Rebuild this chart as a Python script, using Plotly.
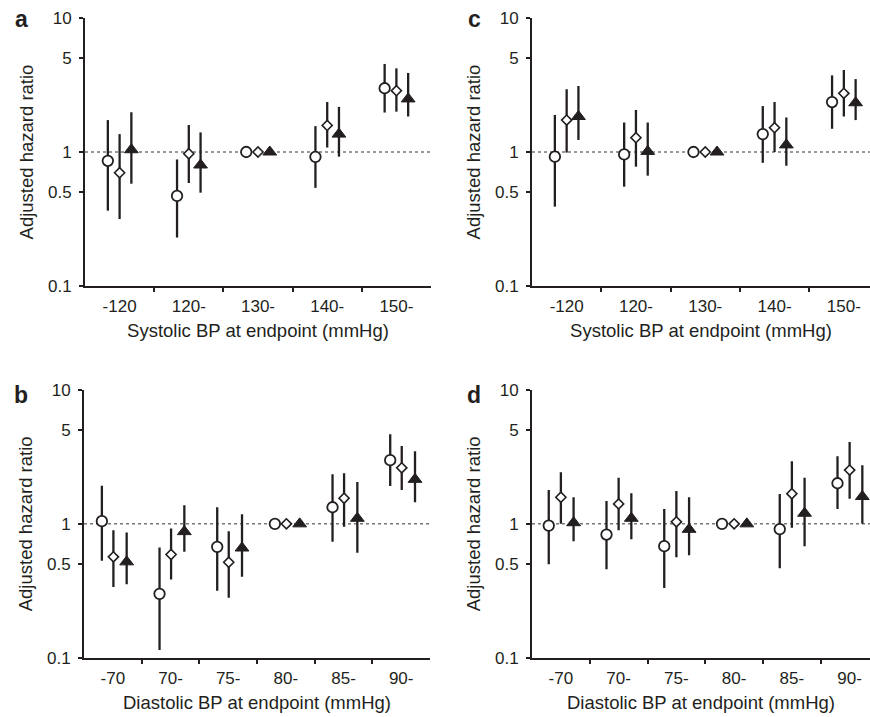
import plotly.graph_objects as go

# ---------------- data ----------------
sys_cats = ["-120", "120-", "130-", "140-", "150-"]
dia_cats = ["-70", "70-", "75-", "80-", "85-", "90-"]
y_tick_vals = [0.1, 0.5, 1, 5, 10]
y_tick_text = ["0.1", "0.5", "1", "5", "10"]

# panel a (systolic)
a_circle_hr = [0.86, 0.47, 1.0, 0.92, 2.99]
a_circle_lo = [0.365, 0.23, 1.0, 0.54, 1.97]
a_circle_hi = [1.73, 0.88, 1.0, 1.56, 4.54]
a_diamond_hr = [0.70, 0.97, 1.0, 1.58, 2.87]
a_diamond_lo = [0.316, 0.587, 1.0, 1.08, 2.0]
a_diamond_hi = [1.36, 1.59, 1.0, 2.36, 4.21]
a_triangle_hr = [1.04, 0.80, 1.0, 1.36, 2.49]
a_triangle_lo = [0.58, 0.497, 1.0, 0.923, 1.84]
a_triangle_hi = [1.98, 1.40, 1.0, 2.17, 3.89]

# panel c (systolic)
c_circle_hr = [0.923, 0.96, 1.0, 1.36, 2.36]
c_circle_lo = [0.391, 0.551, 1.0, 0.83, 1.49]
c_circle_hi = [1.89, 1.66, 1.0, 2.2, 3.73]
c_diamond_hr = [1.73, 1.28, 1.0, 1.52, 2.74]
c_diamond_lo = [0.99, 0.777, 1.0, 1.0, 1.84]
c_diamond_hi = [2.94, 2.06, 1.0, 2.36, 4.09]
c_triangle_hr = [1.84, 1.01, 1.0, 1.13, 2.33]
c_triangle_lo = [1.23, 0.666, 1.0, 0.79, 1.73]
c_triangle_hi = [3.11, 1.66, 1.0, 1.81, 3.5]

# panel b (diastolic)
b_circle_hr = [1.047, 0.30, 0.673, 1.0, 1.33, 2.99]
b_circle_lo = [0.529, 0.114, 0.316, 1.0, 0.734, 1.92]
b_circle_hi = [1.93, 0.665, 1.33, 1.0, 2.35, 4.68]
b_diamond_hr = [0.567, 0.59, 0.517, 1.0, 1.555, 2.62]
b_diamond_lo = [0.338, 0.384, 0.28, 1.0, 0.95, 1.79]
b_diamond_hi = [0.897, 0.923, 0.882, 1.0, 2.39, 3.81]
b_triangle_hr = [0.52, 0.875, 0.66, 1.0, 1.10, 2.15]
b_triangle_lo = [0.354, 0.618, 0.402, 1.0, 0.607, 1.45]
b_triangle_hi = [0.861, 1.38, 1.18, 1.0, 2.05, 3.49]

# panel d (diastolic)
d_circle_hr = [0.97, 0.832, 0.681, 1.0, 0.912, 2.01]
d_circle_lo = [0.50, 0.458, 0.332, 1.0, 0.466, 1.29]
d_circle_hi = [1.79, 1.48, 1.29, 1.0, 1.67, 3.2]
d_diamond_hr = [1.58, 1.41, 1.035, 1.0, 1.68, 2.52]
d_diamond_lo = [1.0, 0.897, 0.563, 1.0, 0.934, 1.54]
d_diamond_hi = [2.43, 2.21, 1.76, 1.0, 2.94, 4.08]
d_triangle_hr = [1.02, 1.10, 0.91, 1.0, 1.20, 1.60]
d_triangle_lo = [0.742, 0.768, 0.583, 1.0, 0.681, 1.0]
d_triangle_hi = [1.58, 1.69, 1.58, 1.0, 2.21, 2.74]

# ---------------- styling ----------------
W, H = 870, 717
INK = "#231f20"
FONT = "Liberation Sans, Arial, sans-serif"
TICK_FS = 17
TITLE_FS = 18.5

def px_x(p):
    return p / W

def px_y(p):
    return 1 - p / H

fig = go.Figure()

panels = [
    ("a", "x", "y", sys_cats,
     [(a_circle_hr, a_circle_lo, a_circle_hi),
      (a_diamond_hr, a_diamond_lo, a_diamond_hi),
      (a_triangle_hr, a_triangle_lo, a_triangle_hi)],
     [-0.17, 0.0, 0.17]),
    ("c", "x3", "y3", sys_cats,
     [(c_circle_hr, c_circle_lo, c_circle_hi),
      (c_diamond_hr, c_diamond_lo, c_diamond_hi),
      (c_triangle_hr, c_triangle_lo, c_triangle_hi)],
     [-0.17, 0.0, 0.17]),
    ("b", "x2", "y2", dia_cats,
     [(b_circle_hr, b_circle_lo, b_circle_hi),
      (b_diamond_hr, b_diamond_lo, b_diamond_hi),
      (b_triangle_hr, b_triangle_lo, b_triangle_hi)],
     [-0.19, 0.01, 0.24]),
    ("d", "x4", "y4", dia_cats,
     [(d_circle_hr, d_circle_lo, d_circle_hi),
      (d_diamond_hr, d_diamond_lo, d_diamond_hi),
      (d_triangle_hr, d_triangle_lo, d_triangle_hi)],
     [-0.21, 0.0, 0.22]),
]

marker_styles = [
    dict(symbol="circle", size=10.5, color="white", line=dict(color=INK, width=1.8)),
    dict(symbol="diamond", size=7.8, color="white", line=dict(color=INK, width=1.6)),
    dict(symbol="triangle-up", size=12, color=INK, line=dict(color=INK, width=1)),
]

for name, xa, ya, cats, series, offsets in panels:
    # dotted reference line at HR = 1
    fig.add_shape(type="line", xref=f"{xa} domain", yref=ya,
                  x0=0, x1=1, y0=1, y1=1,
                  line=dict(color="#333333", width=1, dash="dot"), layer="below")
    for (hr, lo, hi), off, ms in zip(series, offsets, marker_styles):
        xs = [i + off for i in range(len(cats))]
        fig.add_trace(go.Scatter(
            x=xs, y=hr, mode="markers", xaxis=xa, yaxis=ya,
            marker=ms, showlegend=False, cliponaxis=False,
            error_y=dict(type="data", symmetric=False,
                         array=[h - v for h, v in zip(hi, hr)],
                         arrayminus=[v - l for v, l in zip(hr, lo)],
                         width=0, thickness=2.3, color=INK),
        ))

top_dom = [px_y(286), px_y(18)]
bot_dom = [px_y(657.7), px_y(390)]

def yaxis_cfg(dom, anchor):
    return dict(
        type="log", range=[-1, 1], domain=dom, anchor=anchor, automargin=False,
        tickmode="array", tickvals=y_tick_vals, ticktext=y_tick_text,
        ticks="outside", ticklen=4, tickwidth=1.5, tickcolor=INK,
        showline=True, linewidth=2, linecolor=INK,
        showgrid=False, zeroline=False,
        tickfont=dict(family=FONT, size=TICK_FS, color=INK),
        ticklabelstandoff=4,
        title=dict(text="Adjusted hazard ratio",
                   font=dict(family=FONT, size=TITLE_FS, color=INK), standoff=9),
    )

def xaxis_cfg(dom, anchor, cats, rng, title):
    n = len(cats)
    return dict(
        domain=dom, anchor=anchor, range=rng, automargin=False,
        tickmode="array", tickvals=list(range(n)), ticktext=cats,
        ticks="", showline=True, linewidth=2, linecolor=INK,
        showgrid=False, zeroline=False,
        minor=dict(tickmode="array", tickvals=[i + 0.5 for i in range(n - 1)],
                   ticks="outside", ticklen=4, tickwidth=1.5, tickcolor=INK,
                   showgrid=False),
        tickfont=dict(family=FONT, size=TICK_FS, color=INK),
        ticklabelstandoff=4,
        title=dict(text=title, font=dict(family=FONT, size=TITLE_FS, color=INK),
                   standoff=9),
    )

sys_title = "Systolic BP at endpoint (mmHg)"
dia_title = "Diastolic BP at endpoint (mmHg)"

fig.update_layout(
    width=W, height=H,
    margin=dict(l=0, r=0, t=0, b=0, autoexpand=False),
    paper_bgcolor="white", plot_bgcolor="white",
    font=dict(family=FONT, color=INK),
    xaxis=xaxis_cfg([px_x(85), px_x(431)], "y", sys_cats, [-0.5, 4.5], sys_title),
    yaxis=yaxis_cfg(top_dom, "x"),
    xaxis3=xaxis_cfg([px_x(532), 1.0], "y3", sys_cats, [-0.5, -0.5 + 338 / 69.3], sys_title),
    yaxis3=yaxis_cfg(top_dom, "x3"),
    xaxis2=xaxis_cfg([px_x(84), px_x(430)], "y2", dia_cats, [-0.5, 5.5], dia_title),
    yaxis2=yaxis_cfg(bot_dom, "x2"),
    xaxis4=xaxis_cfg([px_x(532), 1.0], "y4", dia_cats, [-0.5, -0.5 + 338 / 57.75], dia_title),
    yaxis4=yaxis_cfg(bot_dom, "x4"),
)

letters = [("a", 21, 19), ("c", 474, 19), ("b", 21, 395), ("d", 474, 395)]
for txt, lx, ly in letters:
    fig.add_annotation(text=f"<b>{txt}</b>", xref="paper", yref="paper",
                       x=px_x(lx), y=px_y(ly), xanchor="center", yanchor="middle",
                       showarrow=False,
                       font=dict(family=FONT, size=23, color=INK))

fig.write_html(
    "out.html",
    config={"displayModeBar": False},
    post_script="document.body.style.margin='0';document.body.style.overflow='hidden';",
)
